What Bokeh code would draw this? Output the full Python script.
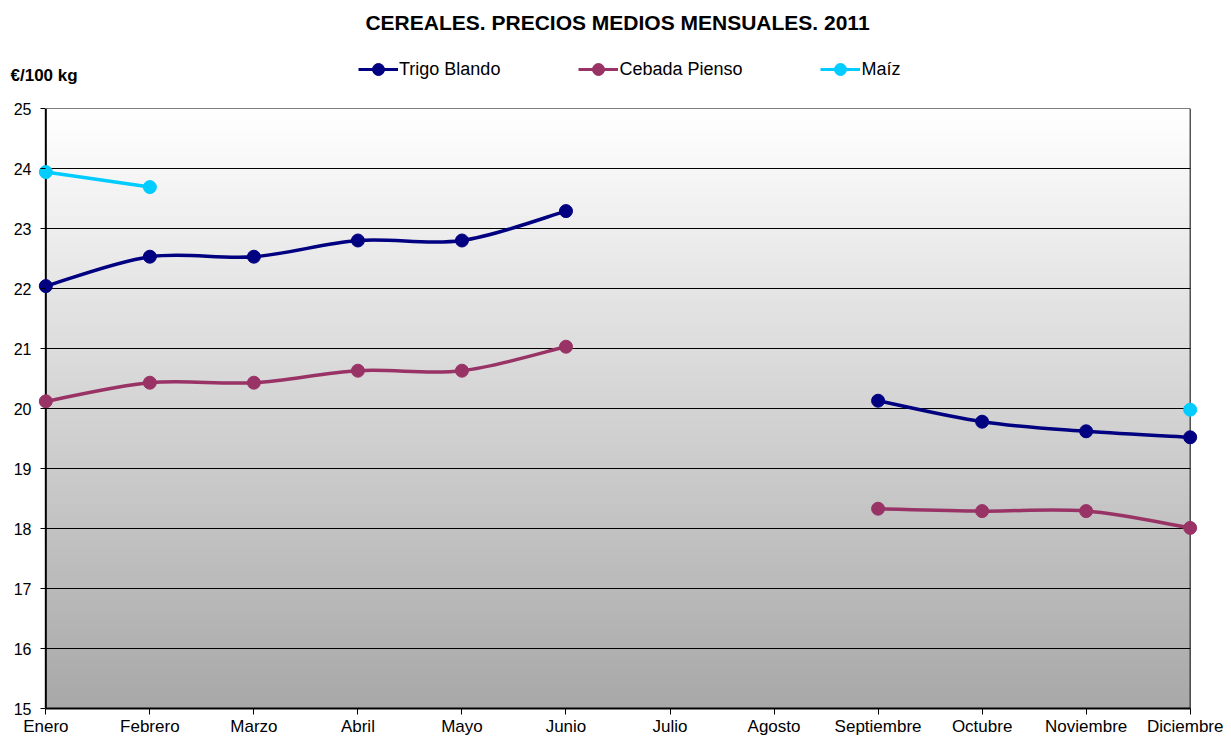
import numpy as np
from bokeh.plotting import figure
from bokeh.layouts import column
from bokeh.models import Legend, LegendItem, FixedTicker, Range1d
from bokeh.core.properties import value
from bokeh.embed import file_html
from bokeh.resources import INLINE

months = ["Enero", "Febrero", "Marzo", "Abril", "Mayo", "Junio", "Julio",
          "Agosto", "Septiembre", "Octubre", "Noviembre", "Diciembre"]
trigo = [22.04, 22.53, 22.53, 22.80, 22.80, 23.29, None, None, 20.13, 19.78, 19.62, 19.52]
cebada = [20.12, 20.43, 20.43, 20.63, 20.63, 21.03, None, None, 18.33, 18.29, 18.29, 18.01]
maiz = [23.94, 23.69, None, None, None, None, None, None, None, None, None, 19.98]
y_ticks = list(range(15, 26))

series = [("Trigo Blando", trigo, "#000080"),
          ("Cebada Pienso", cebada, "#993366"),
          ("Maíz", maiz, "#00CCFF")]

title_text = "CEREALES. PRECIOS MEDIOS MENSUALES. 2011"
unit_text = "€/100 kg"
FONT = "Liberation Sans"
W = 1223
HEAD_H = 95
PAD = 0.08  # extra room so that edge markers are not cut by the frame

# ---------------- header (title, unit, legend) ----------------
head = figure(width=W, height=HEAD_H, output_backend="svg", toolbar_location=None,
              x_range=Range1d(0, W), y_range=Range1d(HEAD_H, 0),
              min_border=0, min_border_left=0, min_border_right=0,
              min_border_top=0, min_border_bottom=0, outline_line_color=None)
head.frame_align = False
head.axis.visible = False
head.grid.visible = False
head.text(x=[617], y=[22], text=[title_text], text_font=value(FONT),
          text_font_size="21px", text_font_style="bold", text_align="center",
          text_baseline="middle", text_color="black")
head.text(x=[10], y=[75], text=[unit_text], text_font=value(FONT),
          text_font_size="17px", text_font_style="bold", text_align="left",
          text_baseline="middle", text_color="black")

items = []
for name, vals, color in series:
    # legend-only renderers, kept outside the visible range
    ln = head.line(x=[-500, -400], y=[-500, -500], line_color=color, line_width=3)
    sc = head.scatter(x=[-450], y=[-500], size=12, marker="circle",
                      fill_color=color, line_color=color)
    items.append(LegendItem(label=name, renderers=[ln, sc]))

legend = Legend(items=items, orientation="horizontal", location=(358, 11),
                glyph_width=40, glyph_height=30, label_text_font=FONT,
                label_text_font_size="18px", label_text_color="black",
                spacing=78, padding=0, margin=0, label_standoff=1,
                border_line_color=None, background_fill_alpha=0)
head.add_layout(legend, "center")

# ---------------- main chart ----------------
p = figure(width=W, height=738 - HEAD_H, output_backend="svg", toolbar_location=None,
           x_range=Range1d(-PAD, 11 + PAD), y_range=Range1d(15, 25),
           min_border_left=37, min_border_right=25, min_border_top=108 - HEAD_H,
           min_border_bottom=26)
p.outline_line_color = None
p.background_fill_color = "white"
p.border_fill_color = "white"
p.grid.visible = False

# gradient background of the plot area
n = 256
grad = np.zeros((n, 2), dtype=np.uint32)
view = grad.view(dtype=np.uint8).reshape((n, 2, 4))
for i in range(n):
    t = i / (n - 1)  # 0 bottom -> 1 top
    c = int(round(168 + (255 - 168) * t))
    view[i, :, 0] = c
    view[i, :, 1] = c
    view[i, :, 2] = c
    view[i, :, 3] = 255
p.image_rgba(image=[grad], x=0, y=15, dw=11, dh=10, level="image")

# horizontal grid lines and plot-area border
p.segment(x0=[0] * len(y_ticks), x1=[11] * len(y_ticks), y0=y_ticks, y1=y_ticks,
          line_color="black", line_width=1)
p.segment(x0=[11], x1=[11], y0=[15], y1=[25], line_color="black", line_width=1)
p.segment(x0=[0], x1=[0], y0=[15], y1=[25], line_color="black", line_width=2)

# axes
p.yaxis.ticker = FixedTicker(ticks=y_ticks)
p.yaxis.axis_line_color = None
p.yaxis.major_tick_in = 8
p.yaxis.major_tick_out = -3
p.yaxis.minor_tick_line_color = None
p.yaxis.major_label_text_font = FONT
p.yaxis.major_label_text_font_size = "16px"
p.yaxis.major_label_text_color = "black"
p.yaxis.major_label_standoff = 6

p.xaxis.ticker = FixedTicker(ticks=list(range(12)))
p.xaxis.bounds = (0, 11)
p.xaxis.major_label_overrides = {i: m for i, m in enumerate(months)}
p.xaxis.major_tick_in = 0
p.xaxis.major_tick_out = 6
p.xaxis.minor_tick_line_color = None
p.xaxis.axis_line_width = 2
p.xaxis.major_label_text_font = FONT
p.xaxis.major_label_text_font_size = "17px"
p.xaxis.major_label_text_color = "black"
p.xaxis.major_label_standoff = 2

for name, vals, color in series:
    # smoothed segments (Excel-like Bezier)
    runs = []
    cur = []
    for i, v in enumerate(vals):
        if v is None:
            if cur:
                runs.append(cur)
            cur = []
        else:
            cur.append(i)
    if cur:
        runs.append(cur)
    x0, y0, x1, y1, cx0, cy0, cx1, cy1 = ([] for _ in range(8))
    for run in runs:
        for k in range(len(run) - 1):
            i1, i2 = run[k], run[k + 1]
            i0 = run[k - 1] if k > 0 else i1
            i3 = run[k + 2] if k + 2 < len(run) else i2
            x0.append(i1); y0.append(vals[i1])
            x1.append(i2); y1.append(vals[i2])
            cx0.append(i1 + (i2 - i0) / 6); cy0.append(vals[i1] + (vals[i2] - vals[i0]) / 6)
            cx1.append(i2 - (i3 - i1) / 6); cy1.append(vals[i2] - (vals[i3] - vals[i1]) / 6)
    if x0:
        p.bezier(x0=x0, y0=y0, x1=x1, y1=y1, cx0=cx0, cy0=cy0, cx1=cx1, cy1=cy1,
                 line_color=color, line_width=3.5)
    xs = [i for i, v in enumerate(vals) if v is not None]
    ys = [v for v in vals if v is not None]
    p.scatter(xs, ys, size=13, marker="circle", fill_color=color, line_color=color)

layout = column(head, p, spacing=0)
open("out.html", "w").write(file_html(layout, INLINE))
